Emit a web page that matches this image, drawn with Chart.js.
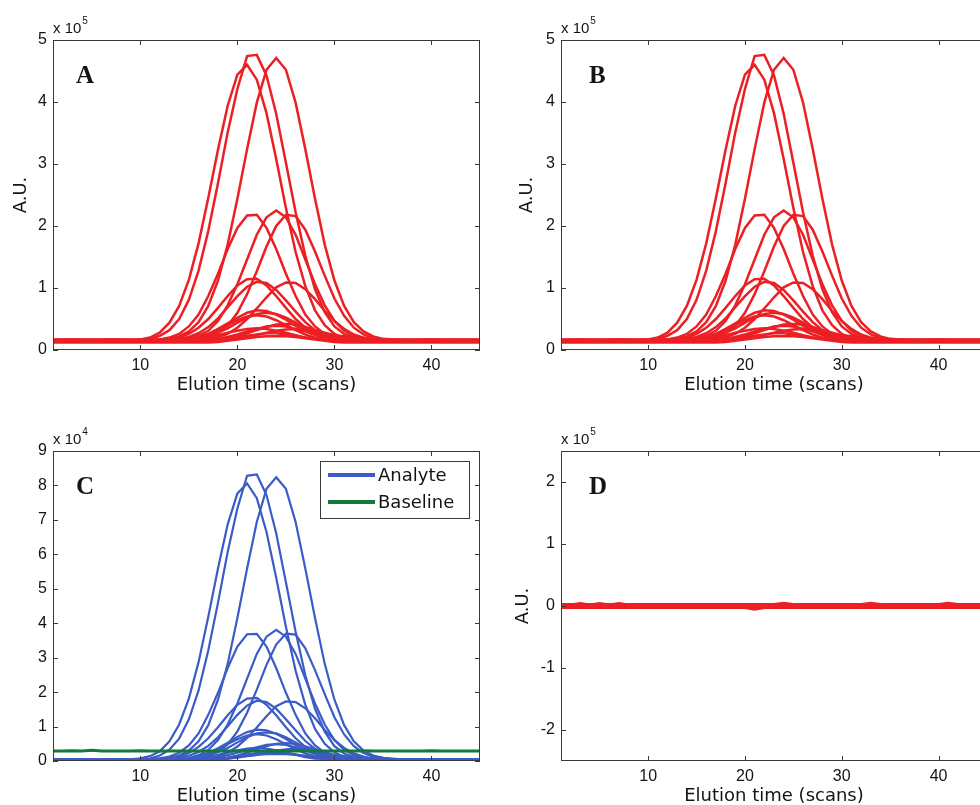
<!DOCTYPE html>
<html>
<head>
<meta charset="utf-8">
<script src="https://cdn.jsdelivr.net/npm/chart.js@4.4.1/dist/chart.umd.min.js"></script>
<style>
    html, body { margin: 0; padding: 0; width: 980px; height: 805px; overflow: hidden; background: #fff; }
    canvas { position: absolute; }
</style>
</head>
<body>
<canvas id="chartA" width="490" height="400" style="left:0px;top:0px"></canvas>
<canvas id="chartB" width="510" height="400" style="left:490px;top:0px"></canvas>
<canvas id="chartC" width="490" height="411" style="left:0px;top:400px"></canvas>
<canvas id="chartD" width="510" height="411" style="left:490px;top:400px"></canvas>
<script>
// Elution time axis (scans) and tick labels
const scans = [1,2,3,4,5,6,7,8,9,10,11,12,13,14,15,16,17,18,19,20,21,22,23,24,25,26,27,28,29,30,31,32,33,34,35,36,37,38,39,40,41,42,43,44,45];
const xTicks = [10, 20, 30, 40];
const yTicksAB = [0, 1, 2, 3, 4, 5];
const yTicksC = [0, 1, 2, 3, 4, 5, 6, 7, 8, 9];
const yTicksD = [-2, -1, 0, 1, 2];

// Raw profiles (A and B), units of 1e5
const rawP1 = [0.15,0.15,0.16,0.15,0.15,0.16,0.15,0.15,0.15,0.16,0.18,0.23,0.32,0.50,0.81,1.28,1.92,2.69,3.51,4.21,4.74,4.76,4.43,3.81,3.02,2.22,1.52,0.98,0.61,0.38,0.26,0.20,0.17,0.15,0.15,0.16,0.15,0.15,0.14,0.15,0.15,0.16,0.15,0.15,0.15];
const rawP2 = [0.14,0.14,0.14,0.15,0.14,0.14,0.15,0.14,0.15,0.17,0.20,0.28,0.44,0.71,1.13,1.72,2.45,3.23,3.94,4.44,4.60,4.36,3.82,3.08,2.29,1.58,1.03,0.64,0.40,0.26,0.19,0.16,0.15,0.14,0.14,0.15,0.14,0.14,0.14,0.15,0.14,0.14,0.14,0.14,0.14];
const rawP3 = [0.16,0.16,0.17,0.16,0.16,0.16,0.17,0.16,0.16,0.16,0.16,0.17,0.18,0.22,0.30,0.45,0.71,1.12,1.70,2.44,3.24,3.99,4.52,4.71,4.52,3.99,3.24,2.44,1.70,1.12,0.71,0.45,0.30,0.22,0.18,0.17,0.16,0.16,0.16,0.17,0.16,0.16,0.16,0.16,0.16];
const rawM1 = [0.15,0.16,0.15,0.15,0.15,0.15,0.16,0.15,0.15,0.15,0.15,0.17,0.20,0.26,0.38,0.57,0.87,1.23,1.63,1.97,2.17,2.18,1.97,1.63,1.23,0.87,0.57,0.38,0.26,0.20,0.17,0.15,0.15,0.15,0.15,0.16,0.15,0.15,0.15,0.15,0.15,0.15,0.16,0.15,0.15];
const rawM2 = [0.15,0.15,0.15,0.15,0.16,0.15,0.15,0.15,0.15,0.14,0.15,0.15,0.15,0.16,0.18,0.23,0.31,0.47,0.72,1.06,1.46,1.86,2.14,2.25,2.14,1.86,1.46,1.06,0.72,0.47,0.31,0.23,0.18,0.16,0.15,0.15,0.15,0.15,0.15,0.15,0.16,0.15,0.15,0.15,0.15];
const rawM3 = [0.15,0.15,0.15,0.15,0.15,0.15,0.15,0.16,0.15,0.15,0.15,0.15,0.15,0.15,0.15,0.17,0.20,0.27,0.39,0.60,0.90,1.27,1.67,2.00,2.18,2.16,1.94,1.59,1.20,0.83,0.55,0.36,0.25,0.19,0.17,0.15,0.15,0.15,0.16,0.15,0.15,0.15,0.15,0.15,0.15];
const rawL1 = [0.15,0.15,0.14,0.15,0.15,0.15,0.15,0.15,0.14,0.15,0.15,0.16,0.17,0.20,0.26,0.36,0.50,0.68,0.87,1.04,1.14,1.15,1.04,0.87,0.68,0.50,0.36,0.26,0.20,0.17,0.16,0.15,0.15,0.15,0.15,0.15,0.15,0.14,0.15,0.15,0.15,0.15,0.15,0.15,0.15];
const rawL1b = [0.15,0.15,0.15,0.15,0.15,0.14,0.15,0.15,0.15,0.15,0.15,0.15,0.16,0.18,0.21,0.27,0.37,0.51,0.69,0.87,1.02,1.10,1.08,0.97,0.80,0.62,0.45,0.32,0.24,0.19,0.17,0.16,0.15,0.15,0.15,0.15,0.15,0.15,0.15,0.16,0.15,0.15,0.15,0.15,0.15];
const rawL2 = [0.14,0.14,0.15,0.14,0.14,0.14,0.14,0.14,0.15,0.14,0.14,0.14,0.14,0.14,0.14,0.16,0.17,0.21,0.26,0.36,0.50,0.67,0.85,1.01,1.09,1.08,0.98,0.82,0.63,0.47,0.34,0.25,0.20,0.17,0.16,0.15,0.14,0.14,0.14,0.14,0.15,0.14,0.14,0.14,0.14];
const rawQ1 = [0.15,0.15,0.15,0.15,0.15,0.15,0.15,0.15,0.15,0.16,0.15,0.15,0.15,0.16,0.18,0.21,0.26,0.34,0.43,0.52,0.60,0.64,0.63,0.57,0.49,0.39,0.31,0.24,0.20,0.17,0.16,0.15,0.15,0.15,0.15,0.15,0.15,0.15,0.15,0.15,0.15,0.16,0.15,0.15,0.15];
const rawQ2 = [0.16,0.16,0.16,0.16,0.16,0.16,0.17,0.16,0.16,0.16,0.16,0.16,0.16,0.16,0.17,0.19,0.23,0.28,0.35,0.44,0.52,0.58,0.60,0.58,0.52,0.44,0.35,0.28,0.23,0.19,0.17,0.16,0.16,0.16,0.16,0.16,0.16,0.16,0.16,0.16,0.16,0.16,0.16,0.16,0.16];
const rawQ3 = [0.14,0.14,0.14,0.14,0.14,0.14,0.14,0.14,0.14,0.14,0.14,0.14,0.14,0.15,0.17,0.20,0.25,0.32,0.40,0.48,0.54,0.56,0.54,0.48,0.40,0.32,0.25,0.20,0.17,0.155,0.14,0.14,0.14,0.14,0.14,0.14,0.14,0.14,0.14,0.14,0.14,0.14,0.14,0.14,0.14];
const rawR1 = [0.15,0.15,0.15,0.15,0.15,0.15,0.15,0.15,0.15,0.15,0.15,0.15,0.15,0.15,0.15,0.15,0.16,0.17,0.19,0.22,0.27,0.32,0.37,0.41,0.42,0.41,0.37,0.32,0.27,0.22,0.19,0.17,0.16,0.15,0.15,0.15,0.15,0.15,0.15,0.15,0.15,0.15,0.15,0.15,0.15];
const rawR2 = [0.14,0.14,0.14,0.14,0.14,0.14,0.14,0.14,0.14,0.14,0.14,0.14,0.14,0.14,0.14,0.15,0.16,0.18,0.21,0.25,0.30,0.34,0.38,0.39,0.38,0.34,0.30,0.25,0.21,0.18,0.16,0.15,0.14,0.14,0.14,0.14,0.14,0.14,0.14,0.14,0.14,0.14,0.14,0.14,0.14];
const rawR3 = [0.15,0.15,0.15,0.15,0.15,0.15,0.15,0.15,0.15,0.15,0.15,0.15,0.15,0.16,0.17,0.18,0.20,0.24,0.28,0.31,0.34,0.35,0.34,0.31,0.28,0.24,0.20,0.18,0.17,0.16,0.15,0.15,0.15,0.15,0.15,0.15,0.15,0.15,0.15,0.15,0.15,0.15,0.15,0.15,0.15];
const rawR4 = [0.17,0.17,0.17,0.17,0.17,0.17,0.17,0.17,0.17,0.17,0.17,0.17,0.17,0.17,0.17,0.17,0.17,0.17,0.18,0.20,0.22,0.24,0.28,0.31,0.33,0.34,0.33,0.31,0.28,0.24,0.22,0.20,0.18,0.17,0.17,0.17,0.17,0.17,0.17,0.17,0.17,0.17,0.17,0.17,0.17];
const rawS1 = [0.14,0.14,0.14,0.14,0.14,0.14,0.14,0.14,0.14,0.14,0.14,0.14,0.14,0.14,0.14,0.145,0.15,0.165,0.18,0.20,0.23,0.25,0.27,0.27,0.25,0.23,0.20,0.18,0.165,0.15,0.145,0.14,0.14,0.14,0.14,0.14,0.14,0.14,0.14,0.14,0.14,0.14,0.14,0.14,0.14];
const rawS2 = [0.12,0.12,0.12,0.12,0.12,0.12,0.12,0.12,0.12,0.12,0.12,0.12,0.12,0.12,0.12,0.12,0.12,0.13,0.15,0.17,0.19,0.21,0.22,0.22,0.22,0.21,0.19,0.17,0.15,0.13,0.12,0.12,0.12,0.12,0.12,0.12,0.12,0.12,0.12,0.12,0.12,0.12,0.12,0.12,0.12];

// Baseline-corrected analyte profiles (C), units of 1e4
const corP1 = [0.04,0.04,0.05,0.04,0.04,0.04,0.04,0.04,0.04,0.05,0.07,0.16,0.33,0.65,1.21,2.05,3.21,4.59,6.07,7.33,8.28,8.32,7.72,6.61,5.19,3.75,2.49,1.51,0.85,0.43,0.22,0.11,0.06,0.04,0.04,0.04,0.05,0.04,0.04,0.04,0.04,0.04,0.04,0.05,0.04];
const corP2 = [0.03,0.03,0.03,0.03,0.03,0.03,0.03,0.03,0.05,0.08,0.14,0.28,0.57,1.06,1.81,2.87,4.19,5.59,6.87,7.77,8.06,7.63,6.65,5.32,3.90,2.62,1.63,0.93,0.50,0.25,0.12,0.07,0.05,0.03,0.03,0.03,0.03,0.03,0.03,0.03,0.03,0.03,0.03,0.03,0.03];
const corP3 = [0.05,0.05,0.05,0.05,0.05,0.05,0.05,0.05,0.05,0.05,0.05,0.07,0.09,0.16,0.30,0.57,1.04,1.78,2.82,4.15,5.59,6.94,7.90,8.24,7.90,6.94,5.59,4.15,2.82,1.78,1.04,0.57,0.30,0.16,0.09,0.07,0.05,0.05,0.05,0.05,0.05,0.05,0.05,0.05,0.05];
const corM1 = [0.04,0.04,0.04,0.04,0.04,0.04,0.04,0.04,0.04,0.04,0.04,0.08,0.13,0.24,0.45,0.80,1.34,1.98,2.70,3.32,3.68,3.69,3.32,2.70,1.98,1.34,0.80,0.45,0.24,0.13,0.08,0.04,0.04,0.04,0.04,0.04,0.04,0.04,0.04,0.04,0.04,0.04,0.04,0.04,0.04];
const corM2 = [0.03,0.03,0.03,0.03,0.03,0.03,0.03,0.03,0.03,0.03,0.03,0.03,0.03,0.05,0.08,0.17,0.32,0.61,1.06,1.67,2.39,3.11,3.61,3.81,3.61,3.11,2.39,1.67,1.06,0.61,0.32,0.17,0.08,0.05,0.03,0.03,0.03,0.03,0.03,0.03,0.03,0.03,0.03,0.03,0.03];
const corM3 = [0.05,0.05,0.05,0.05,0.05,0.05,0.05,0.05,0.05,0.05,0.05,0.05,0.05,0.05,0.05,0.09,0.14,0.27,0.48,0.86,1.40,2.07,2.79,3.38,3.70,3.67,3.27,2.64,1.94,1.27,0.77,0.43,0.23,0.12,0.09,0.05,0.05,0.05,0.05,0.05,0.05,0.05,0.05,0.05,0.05];
const corL1 = [0.03,0.03,0.03,0.03,0.03,0.03,0.03,0.03,0.03,0.03,0.03,0.05,0.07,0.12,0.23,0.41,0.66,0.98,1.33,1.63,1.81,1.83,1.63,1.33,0.98,0.66,0.41,0.23,0.12,0.07,0.05,0.03,0.03,0.03,0.03,0.03,0.03,0.03,0.03,0.03,0.03,0.03,0.03,0.03,0.03];
const corL1b = [0.04,0.04,0.04,0.04,0.04,0.04,0.04,0.04,0.04,0.04,0.04,0.04,0.06,0.09,0.15,0.26,0.44,0.69,1.01,1.34,1.61,1.75,1.71,1.52,1.21,0.89,0.58,0.35,0.20,0.11,0.08,0.06,0.04,0.04,0.04,0.04,0.04,0.04,0.04,0.04,0.04,0.04,0.04,0.04,0.04];
const corL2 = [0.02,0.02,0.02,0.02,0.02,0.02,0.02,0.02,0.02,0.02,0.02,0.02,0.02,0.02,0.02,0.06,0.07,0.15,0.24,0.42,0.67,0.97,1.30,1.59,1.73,1.71,1.53,1.24,0.90,0.61,0.38,0.22,0.13,0.07,0.06,0.02,0.02,0.02,0.02,0.02,0.02,0.02,0.02,0.02,0.02];
const corQ1 = [0.03,0.03,0.03,0.03,0.03,0.03,0.03,0.03,0.03,0.03,0.03,0.03,0.03,0.05,0.08,0.14,0.23,0.37,0.53,0.70,0.84,0.91,0.89,0.79,0.64,0.46,0.32,0.19,0.12,0.07,0.05,0.03,0.03,0.03,0.03,0.03,0.03,0.03,0.03,0.03,0.03,0.03,0.03,0.03,0.03];
const corQ2 = [0.04,0.04,0.04,0.04,0.04,0.04,0.04,0.04,0.04,0.04,0.04,0.04,0.04,0.04,0.06,0.09,0.17,0.26,0.38,0.54,0.69,0.80,0.83,0.80,0.69,0.54,0.38,0.26,0.17,0.09,0.06,0.04,0.04,0.04,0.04,0.04,0.04,0.04,0.04,0.04,0.04,0.04,0.04,0.04,0.04];
const corQ3 = [0.02,0.02,0.02,0.02,0.02,0.02,0.02,0.02,0.02,0.02,0.02,0.02,0.02,0.04,0.07,0.13,0.22,0.34,0.49,0.63,0.74,0.78,0.74,0.63,0.49,0.34,0.22,0.13,0.07,0.05,0.02,0.02,0.02,0.02,0.02,0.02,0.02,0.02,0.02,0.02,0.02,0.02,0.02,0.02,0.02];
const corR1 = [0.03,0.03,0.03,0.03,0.03,0.03,0.03,0.03,0.03,0.03,0.03,0.03,0.03,0.03,0.03,0.03,0.05,0.07,0.10,0.16,0.25,0.34,0.43,0.50,0.52,0.50,0.43,0.34,0.25,0.16,0.10,0.07,0.05,0.03,0.03,0.03,0.03,0.03,0.03,0.03,0.03,0.03,0.03,0.03,0.03];
const corR2 = [0.04,0.04,0.04,0.04,0.04,0.04,0.04,0.04,0.04,0.04,0.04,0.04,0.04,0.04,0.04,0.06,0.08,0.11,0.17,0.24,0.33,0.40,0.47,0.49,0.47,0.40,0.33,0.24,0.17,0.11,0.08,0.06,0.04,0.04,0.04,0.04,0.04,0.04,0.04,0.04,0.04,0.04,0.04,0.04,0.04];
const corR3 = [0.02,0.02,0.02,0.02,0.02,0.02,0.02,0.02,0.02,0.02,0.02,0.02,0.02,0.04,0.06,0.07,0.11,0.18,0.25,0.31,0.36,0.38,0.36,0.31,0.25,0.18,0.11,0.07,0.06,0.04,0.02,0.02,0.02,0.02,0.02,0.02,0.02,0.02,0.02,0.02,0.02,0.02,0.02,0.02,0.02];
const corR4 = [0.05,0.05,0.05,0.05,0.05,0.05,0.05,0.05,0.05,0.05,0.05,0.05,0.05,0.05,0.05,0.05,0.05,0.05,0.07,0.10,0.14,0.18,0.25,0.30,0.34,0.36,0.34,0.30,0.25,0.18,0.14,0.10,0.07,0.05,0.05,0.05,0.05,0.05,0.05,0.05,0.05,0.05,0.05,0.05,0.05];
const corS1 = [0.03,0.03,0.03,0.03,0.03,0.03,0.03,0.03,0.03,0.03,0.03,0.03,0.03,0.03,0.03,0.04,0.05,0.08,0.10,0.14,0.19,0.23,0.26,0.26,0.23,0.19,0.14,0.10,0.08,0.05,0.04,0.03,0.03,0.03,0.03,0.03,0.03,0.03,0.03,0.03,0.03,0.03,0.03,0.03,0.03];
const corS2 = [0.02,0.02,0.02,0.02,0.02,0.02,0.02,0.02,0.02,0.02,0.02,0.02,0.02,0.02,0.02,0.02,0.02,0.04,0.07,0.11,0.15,0.18,0.20,0.20,0.20,0.18,0.15,0.11,0.07,0.04,0.02,0.02,0.02,0.02,0.02,0.02,0.02,0.02,0.02,0.02,0.02,0.02,0.02,0.02,0.02];

// Estimated baseline (C), units of 1e4
const baselineC = [0.29,0.29,0.30,0.29,0.31,0.29,0.29,0.29,0.29,0.30,0.29,0.29,0.29,0.29,0.29,0.29,0.29,0.29,0.29,0.29,0.30,0.29,0.29,0.29,0.30,0.29,0.29,0.29,0.29,0.29,0.29,0.29,0.30,0.29,0.29,0.29,0.29,0.29,0.29,0.30,0.29,0.29,0.29,0.29,0.29];

// Residuals (D), units of 1e5
const resid1 = [0.00,0.01,0.03,0.01,0.03,0.01,0.03,0.01,0.00,0.00,0.00,0.00,0.00,0.00,0.00,0.00,0.00,0.00,0.00,0.00,0.00,0.00,0.00,0.00,0.00,0.00,0.00,0.00,0.00,0.00,0.00,0.00,0.00,0.00,0.00,0.00,0.00,0.00,0.00,0.00,0.00,0.00,0.00,0.00,0.00];
const resid2 = [-0.015,-0.015,-0.015,-0.015,-0.015,-0.015,-0.015,-0.015,-0.015,-0.015,-0.015,-0.015,-0.015,-0.015,-0.015,-0.015,-0.015,-0.015,-0.015,-0.015,-0.045,-0.015,-0.015,-0.015,-0.015,-0.015,-0.015,-0.015,-0.015,-0.015,-0.015,-0.015,-0.015,-0.015,-0.015,-0.015,-0.015,-0.015,-0.015,-0.015,-0.015,-0.015,-0.015,-0.015,-0.015];
const resid3 = [0.015,0.015,0.015,0.015,0.015,0.015,0.015,0.015,0.015,0.015,0.015,0.015,0.015,0.015,0.015,0.015,0.015,0.015,0.015,0.015,0.015,0.015,0.015,0.035,0.015,0.015,0.015,0.015,0.015,0.015,0.015,0.015,0.035,0.015,0.015,0.015,0.015,0.015,0.015,0.015,0.035,0.015,0.015,0.015,0.015];
const resid4 = [0.00,0.005,0.00,-0.005,0.00,0.00,0.005,0.00,0.00,-0.005,0.00,0.00,0.005,0.00,0.00,0.00,-0.005,0.00,0.00,0.005,0.00,0.00,0.00,0.005,0.00,0.00,-0.005,0.00,0.00,0.00,0.005,0.00,0.00,0.00,-0.005,0.00,0.00,0.005,0.00,0.00,0.00,0.00,-0.005,0.00,0.00];

const rawCurves = [rawP1, rawP2, rawP3, rawM1, rawM2, rawM3, rawL1, rawL1b, rawL2, rawQ1, rawQ2, rawQ3, rawR1, rawR2, rawR3, rawR4, rawS1, rawS2];
const corCurves = [corP1, corP2, corP3, corM1, corM2, corM3, corL1, corL1b, corL2, corQ1, corQ2, corQ3, corR1, corR2, corR3, corR4, corS1, corS2];
const residCurves = [resid1, resid2, resid3, resid4];

const RED = '#ec1f24';
const BLUE = '#3b5cc6';
const GREEN = '#13783a';
const FRAME = '#3a3a3a';
const INK = '#141414';

const tickFont = { family: '"Liberation Sans", Arial, sans-serif', size: 16 };
const titleFont = { family: '"DejaVu Sans", sans-serif', size: 18 };

function toPoints(values) {
    return values.map((v, i) => ({ x: scans[i], y: v }));
}

function curveSets(list, color, width, order) {
    return list.map(values => ({
        data: toPoints(values),
        borderColor: color,
        borderWidth: width,
        pointRadius: 0,
        fill: false,
        tension: 0,
        order: order
    }));
}

// MATLAB-like box, inward ticks, panel letter, exponent and legend
const framePlugin = {
    id: 'frame',
    afterDraw(chart, args, opts) {
        const { ctx, chartArea: a, scales } = chart;
        const L = Math.round(a.left), R = Math.round(a.right);
        const T = Math.round(a.top), B = Math.round(a.bottom);
        ctx.save();
        ctx.strokeStyle = FRAME;
        ctx.lineWidth = 1;
        ctx.strokeRect(L + 0.5, T + 0.5, R - L - 1, B - T - 1);
        ctx.beginPath();
        xTicks.forEach(v => {
            const px = Math.round(scales.x.getPixelForValue(v)) + 0.5;
            ctx.moveTo(px, B); ctx.lineTo(px, B - 5);
            ctx.moveTo(px, T); ctx.lineTo(px, T + 5);
        });
        opts.yTicks.forEach(v => {
            const py = Math.round(scales.y.getPixelForValue(v)) + 0.5;
            ctx.moveTo(L, py); ctx.lineTo(L + 5, py);
            ctx.moveTo(R, py); ctx.lineTo(R - 5, py);
        });
        ctx.stroke();

        // panel letter
        ctx.fillStyle = INK;
        ctx.textBaseline = 'alphabetic';
        ctx.textAlign = 'left';
        ctx.font = 'bold 25px "Liberation Serif", "Times New Roman", serif';
        ctx.fillText(opts.letter, L + opts.letterDx, T + 43);

        // exponent label
        ctx.font = '15px "Liberation Sans", Arial, sans-serif';
        ctx.fillText('x 10', L, T - 7);
        const w = ctx.measureText('x 10').width;
        ctx.font = '10px "Liberation Sans", Arial, sans-serif';
        ctx.fillText(opts.expo, L + w + 1, T - 16);

        // legend box
        if (opts.legend) {
            const bx = R - 160, by = T + 10, bw = 149, bh = 57;
            ctx.fillStyle = '#fff';
            ctx.fillRect(bx, by, bw, bh);
            ctx.strokeStyle = FRAME;
            ctx.lineWidth = 1;
            ctx.strokeRect(bx + 0.5, by + 0.5, bw, bh);
            opts.legend.forEach((item, i) => {
                const ly = by + 14 + i * 27;
                ctx.strokeStyle = item.color;
                ctx.lineWidth = 4;
                ctx.beginPath();
                ctx.moveTo(bx + 8, ly);
                ctx.lineTo(bx + 55, ly);
                ctx.stroke();
                ctx.fillStyle = INK;
                ctx.font = '18px "DejaVu Sans", sans-serif';
                ctx.textBaseline = 'middle';
                ctx.fillText(item.label, bx + 58, ly + 1);
            });
        }
        ctx.restore();
    }
};

function panelOptions(cfg) {
    return {
        responsive: false,
        animation: false,
        events: [],
        layout: { padding: { top: cfg.top, right: cfg.right, left: 0, bottom: 0 } },
        plugins: {
            legend: { display: false },
            tooltip: { enabled: false },
            frame: cfg.frame
        },
        scales: {
            x: {
                type: 'linear',
                min: 1,
                max: 45,
                afterBuildTicks: s => { s.ticks = xTicks.map(v => ({ value: v })); },
                afterFit: s => { s.height = 50; },
                grid: { display: false, drawTicks: false },
                border: { display: false },
                ticks: { padding: 6, color: INK, font: tickFont, maxRotation: 0, autoSkip: false },
                title: { display: true, text: 'Elution time (scans)', color: INK, font: titleFont, padding: { top: 0, bottom: 4 } }
            },
            y: {
                type: 'linear',
                min: cfg.yMin,
                max: cfg.yMax,
                afterBuildTicks: s => { s.ticks = cfg.yTicks.map(v => ({ value: v })); },
                afterFit: s => { s.width = cfg.yWidth; },
                grid: { display: false, drawTicks: false },
                border: { display: false },
                ticks: { padding: 6, color: INK, font: tickFont, autoSkip: false },
                title: { display: !!cfg.yTitle, text: cfg.yTitle || '', color: INK, font: titleFont, padding: { top: cfg.yTitlePad || 0, bottom: 0 } }
            }
        }
    };
}

Chart.register(framePlugin);

// A: raw profiles
new Chart(document.getElementById('chartA'), {
    type: 'line',
    data: { datasets: curveSets(rawCurves, RED, 2.5, 1) },
    options: panelOptions({
        top: 40, right: 10, yWidth: 53, yMin: 0, yMax: 5, yTicks: yTicksAB,
        yTitle: 'A.U.', yTitlePad: 10.7,
        frame: { letter: 'A', letterDx: 23, expo: '5', yTicks: yTicksAB }
    })
});

// B: fitted profiles
new Chart(document.getElementById('chartB'), {
    type: 'line',
    data: { datasets: curveSets(rawCurves, RED, 2.5, 1) },
    options: panelOptions({
        top: 40, right: 13, yWidth: 71, yMin: 0, yMax: 5, yTicks: yTicksAB,
        yTitle: 'A.U.', yTitlePad: 26.7,
        frame: { letter: 'B', letterDx: 28, expo: '5', yTicks: yTicksAB }
    })
});

// C: analyte vs baseline
new Chart(document.getElementById('chartC'), {
    type: 'line',
    data: {
        datasets: [
            { data: toPoints(baselineC), borderColor: GREEN, borderWidth: 3, pointRadius: 0, fill: false, tension: 0, order: 0 }
        ].concat(curveSets(corCurves, BLUE, 2.2, 1))
    },
    options: panelOptions({
        top: 51, right: 10, yWidth: 53, yMin: 0, yMax: 9, yTicks: yTicksC,
        frame: {
            letter: 'C', letterDx: 23, expo: '4', yTicks: yTicksC,
            legend: [{ label: 'Analyte', color: BLUE }, { label: 'Baseline', color: GREEN }]
        }
    })
});

// D: residuals
new Chart(document.getElementById('chartD'), {
    type: 'line',
    data: { datasets: curveSets(residCurves, RED, 4, 1) },
    options: panelOptions({
        top: 51, right: 13, yWidth: 71, yMin: -2.5, yMax: 2.5, yTicks: yTicksD,
        yTitle: 'A.U.', yTitlePad: 22.7,
        frame: { letter: 'D', letterDx: 28, expo: '5', yTicks: yTicksD }
    })
});
</script>
</body>
</html>
